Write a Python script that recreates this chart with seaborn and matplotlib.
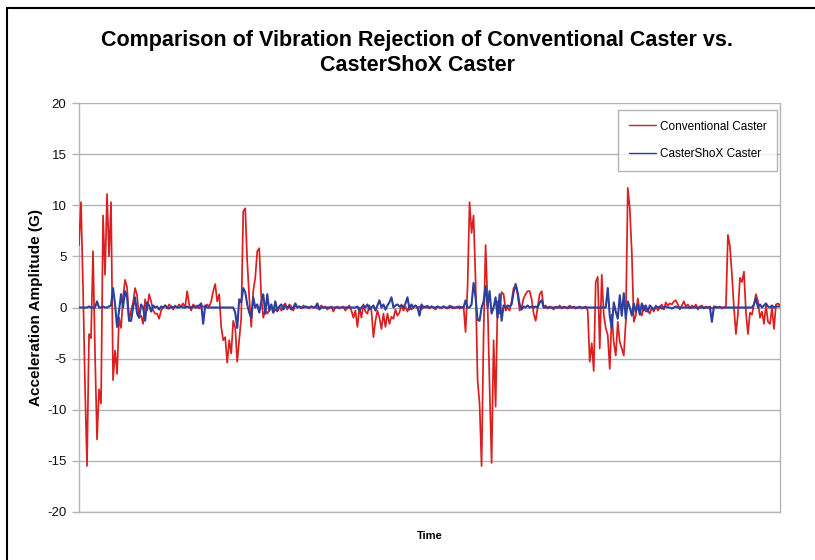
import numpy as np
import pandas as pd
import matplotlib
matplotlib.use("Agg")
import matplotlib.pyplot as plt
import matplotlib.patches as patches
import seaborn as sns

# ================================================
# DATA (one sample per time step)
# ================================================
conventional = [
    6.1, 10.3, 2.0, -7.7, -15.5, -2.6, -3.0, 5.5, -4.5, -12.9, -8.0, -9.4, 9.0, 3.2, 11.1, 5.0, 10.3, -7.1, -4.2, -6.5, -1.0, -2.0, 1.0, 2.7, 2.0,
    -1.3, -0.3, 0.5, 1.9, 1.2, -1.0, -0.8, -1.6, 0.8, -0.3, 1.3, 0.6, -0.3, -0.6, -0.6, -1.1, -0.3, 0.0, 0.2, -0.1, 0.3, 0.1, -0.2, 0.2, 0.0,
    0.3, 0.1, 0.4, 0.0, 1.6, 0.3, -0.3, 0.3, 0.1, 0.2, -0.1, 0.2, 0.1, 0.0, 0.3, 0.1, 0.6, 1.6, 2.3, 0.6, 1.3, -1.9, -3.2, -2.9, -5.4,
    -3.2, -4.5, -1.3, -2.0, -5.3, -3.2, -1.0, 9.4, 9.7, 4.5, 1.0, -1.9, 1.6, 2.9, 5.5, 5.8, 1.0, -1.0, -0.2, -0.6, -0.3, 0.2, -0.5, -0.2, -0.4,
    0.1, -0.3, 0.2, 0.4, -0.2, 0.3, 0.1, -0.3, 0.2, 0.0, 0.1, -0.1, 0.2, 0.0, 0.1, -0.1, 0.1, 0.0, 0.1, -0.1, 0.0, 0.2, 0.0, 0.1, -0.2,
    0.0, 0.1, -0.4, 0.0, 0.1, -0.1, 0.0, 0.1, -0.3, 0.0, 0.2, -0.3, -1.0, -0.3, -1.9, 0.0, -1.0, 0.3, -0.4, -0.6, 0.2, -0.3, -2.9, -1.3, -0.3,
    -1.0, -2.1, -0.6, -1.9, -0.6, -1.6, -0.9, -1.1, -0.2, -0.8, -0.5, 0.3, -0.3, 0.1, -0.4, 0.2, -0.2, 0.0, 0.2, -0.1, 0.1, -0.2, 0.1, 0.0, 0.2,
    -0.1, 0.1, 0.0, -0.2, 0.1, 0.0, -0.1, 0.1, 0.0, -0.1, 0.2, 0.0, -0.1, 0.0, 0.1, -0.1, 0.0, 0.1, -2.4, 2.0, 10.3, 7.3, 9.0, 2.6, -7.1,
    -9.4, -15.5, -2.6, 6.1, 0.5, -7.7, -15.2, -3.2, -9.7, 0.6, -0.6, 1.5, 1.3, -0.3, 0.0, -0.3, 0.6, 1.9, 2.1, 1.3, -0.3, 0.0, 0.9, 1.3, 1.6,
    1.6, 0.8, -0.6, -1.3, 0.0, 1.3, 1.6, 0.0, 0.2, -0.1, 0.1, 0.0, -0.2, 0.1, 0.0, 0.2, -0.1, 0.1, 0.0, -0.1, 0.2, 0.0, 0.1, -0.1, 0.0,
    0.1, -0.1, 0.0, 0.1, -0.3, -5.3, -3.5, -6.2, 2.5, 3.0, -4.0, 3.2, -0.7, -2.0, -2.7, -6.0, -0.7, -3.4, -4.7, -1.4, -3.4, -4.0, -4.7, -1.4, 11.7,
    9.7, 5.4, -1.4, -0.8, 0.9, -0.4, -0.8, 0.2, -0.4, -0.3, -0.6, 0.0, -0.4, 0.2, -0.3, 0.0, 0.3, -0.2, 0.5, 0.2, 0.4, 0.3, 0.6, 0.7, 0.3,
    -0.2, 0.2, 0.6, 0.1, 0.3, -0.1, 0.2, 0.0, 0.3, -0.2, 0.1, 0.2, -0.1, 0.1, 0.0, 0.1, -0.1, 0.0, 0.1, 0.0, 0.1, -0.1, 0.0, 0.1, 7.1,
    6.0, 3.2, 0.0, -2.6, -0.6, 2.9, 2.5, 3.5, -0.5, -2.6, -0.5, -0.7, 0.3, 1.3, 0.6, -1.0, -0.4, -1.6, 0.2, -1.4, -1.6, 0.0, -2.1, 0.3, 0.4, 0.2,
]

castershox = [
    0.0, 0.0, 0.0, 0.0, 0.0, 0.1, 0.0, 0.0, 0.0, 0.6, 0.0, 0.0, 0.1, 0.0, 0.0, 0.1, 0.2, 1.9, 0.3, -1.9, -0.3, 1.3, 0.0, 1.6, 1.0,
    -1.3, -1.3, 0.0, 1.0, -0.6, -1.0, 0.3, 0.0, -1.3, 0.5, 0.2, -0.4, 0.2, 0.0, 0.1, -0.2, 0.1, 0.0, 0.2, 0.0, -0.1, 0.1, 0.0, 0.1, 0.0,
    0.0, 0.1, 0.0, 0.0, 0.1, 0.0, 0.0, 0.1, 0.0, 0.0, 0.2, 0.4, -1.6, 0.2, 0.0, 0.0, 0.0, 0.0, 0.0, 0.0, 0.0, 0.0, 0.0, 0.0, 0.0,
    0.0, 0.0, 0.0, -0.5, -2.0, 0.8, 0.5, 1.9, 1.5, 0.3, -0.5, -1.0, 1.0, 0.0, 0.3, -0.5, 0.6, 1.3, -0.6, 1.3, -0.3, 0.3, -0.5, 0.6, -0.3,
    0.1, 0.3, -0.2, 0.2, 0.0, 0.1, -0.2, 0.0, 0.4, 0.0, 0.1, 0.0, 0.0, 0.1, 0.0, 0.0, 0.1, 0.0, 0.0, 0.4, -0.2, 0.0, 0.0, 0.0, 0.0,
    0.0, 0.0, 0.0, 0.0, 0.0, 0.0, 0.0, 0.0, 0.0, 0.0, 0.0, 0.0, 0.0, 0.0, 0.1, -0.3, 0.0, 0.2, 0.0, 0.3, -0.2, 0.0, 0.2, -0.3, 0.2,
    0.7, 0.0, 0.3, -0.2, 0.2, 0.5, 1.0, 0.0, 0.2, 0.3, 0.1, 0.2, 0.0, 0.4, 1.0, -0.2, 0.3, 0.0, 0.2, 0.0, -0.8, 0.3, 0.0, 0.1, 0.0,
    0.0, 0.1, 0.0, 0.0, 0.1, 0.0, 0.0, 0.1, 0.0, 0.0, 0.0, 0.1, 0.0, 0.0, 0.0, 0.1, 0.0, 0.0, 0.7, 0.0, 0.0, 0.3, 2.4, 1.0, -1.2,
    -1.3, 0.0, 0.6, 2.1, 0.0, 1.6, -0.6, 0.0, 1.0, -1.0, 1.3, -1.3, 0.2, 0.0, 0.2, 0.1, 0.3, 1.5, 2.3, 1.5, 0.3, -0.2, 0.1, 0.0, 0.2,
    0.0, 0.1, 0.0, 0.1, 0.0, 0.5, 0.7, 0.0, 0.0, 0.0, 0.0, 0.0, 0.0, 0.0, 0.0, 0.0, 0.0, 0.0, 0.0, 0.0, 0.0, 0.0, 0.0, 0.0, 0.0,
    0.0, 0.0, 0.0, 0.0, 0.0, 0.0, 0.0, 0.0, 0.0, 0.0, 0.0, 0.0, 0.0, 0.0, 1.9, -0.8, -2.0, 0.5, -0.4, -1.1, 1.2, -0.8, 1.4, -1.1, 0.6,
    0.0, -0.8, 0.4, -0.4, 0.3, -0.7, 0.4, -0.3, 0.2, -0.4, 0.2, 0.0, -0.2, 0.1, 0.0, 0.1, -0.1, 0.0, 0.1, 0.0, 0.0, -0.1, 0.0, 0.1, 0.0,
    0.0, 0.0, 0.0, 0.0, 0.0, 0.0, 0.0, 0.0, 0.0, 0.0, 0.0, 0.0, 0.0, 0.0, 0.0, 0.0, -1.4, 0.1, 0.0, 0.0, 0.0, 0.0, 0.0, 0.0, 0.0,
    0.0, 0.0, 0.0, 0.0, 0.0, 0.0, 0.0, 0.0, 0.0, 0.0, 0.0, 0.0, 0.3, 0.9, 0.0, 0.3, 0.0, 0.2, 0.4, 0.1, 0.0, 0.2, 0.0, 0.1, 0.1, 0.1,
]

y_ticks = [-20, -15, -10, -5, 0, 5, 10, 15, 20]
series_names = ["Conventional Caster", "CasterShoX Caster"]

df = pd.DataFrame({
    "time": np.arange(len(conventional)),
    series_names[0]: conventional,
    series_names[1]: castershox,
})

# ================================================
# PLOT
# ================================================
sns.set_style("white")
plt.rcParams['font.family'] = ['Liberation Sans', 'DejaVu Sans']
plt.rcParams['text.color'] = 'black'
plt.rcParams['axes.labelcolor'] = 'black'
plt.rcParams['ytick.color'] = 'black'

fig = plt.figure(figsize=(8.15, 5.6), dpi=100)
ax = fig.add_axes([79 / 815, 1 - 512 / 560, 701 / 815, 409 / 560])

grid_col = '#b4b4b4'
for v in y_ticks:
    ax.axhline(v, color=grid_col, lw=1, zorder=0)

sns.lineplot(data=df, x="time", y=series_names[0], color='#dc1e1e', lw=1.25,
             label=series_names[0], ax=ax, zorder=3)
sns.lineplot(data=df, x="time", y=series_names[1], color='#2d3f9c', lw=1.5,
             label=series_names[1], ax=ax, zorder=4)

ax.set_xlim(0, len(conventional) - 1)
ax.set_ylim(-20, 20)
ax.set_yticks(y_ticks)
ax.set_yticklabels([str(v) for v in y_ticks])
ax.set_xticks([])
ax.tick_params(axis='y', direction='out', length=5, width=1, color=grid_col,
               labelcolor='#111111', labelsize=9.5, pad=4, left=True)
for side in ['left', 'bottom', 'right']:
    ax.spines[side].set_color(grid_col)
    ax.spines[side].set_linewidth(1)
ax.spines['top'].set_visible(False)

ax.set_xlabel('Time', fontsize=8, fontweight='bold', labelpad=14)
ax.set_ylabel('Acceleration Amplitude (G)', fontsize=11, fontweight='bold', labelpad=3)

fig.text(417 / 815, 1 - 53 / 560, 'Comparison of Vibration Rejection of Conventional Caster vs.\nCasterShoX Caster',
         ha='center', va='center', fontsize=15.5, fontweight='bold', linespacing=1.25)

leg = ax.legend(loc='upper right', bbox_to_anchor=(777 / 815, 1 - 110 / 560),
                bbox_transform=fig.transFigure, frameon=True, fancybox=False,
                fontsize=8.5, handlelength=2.3, labelspacing=1.3,
                borderpad=0.9, handletextpad=0.3, borderaxespad=0)
leg.get_frame().set_edgecolor('#a0a0a0')
leg.get_frame().set_linewidth(1)
for line in leg.get_lines():
    line.set_linewidth(1)

# outer chart border (cropped on the right and bottom in the reference)
fig.patches.append(patches.Rectangle((7 / 815, -0.2), 2.0, 1 - 8 / 560 + 0.2,
                                     transform=fig.transFigure, fill=False,
                                     edgecolor='black', lw=1.5))

plt.savefig('out.png', dpi=100)
